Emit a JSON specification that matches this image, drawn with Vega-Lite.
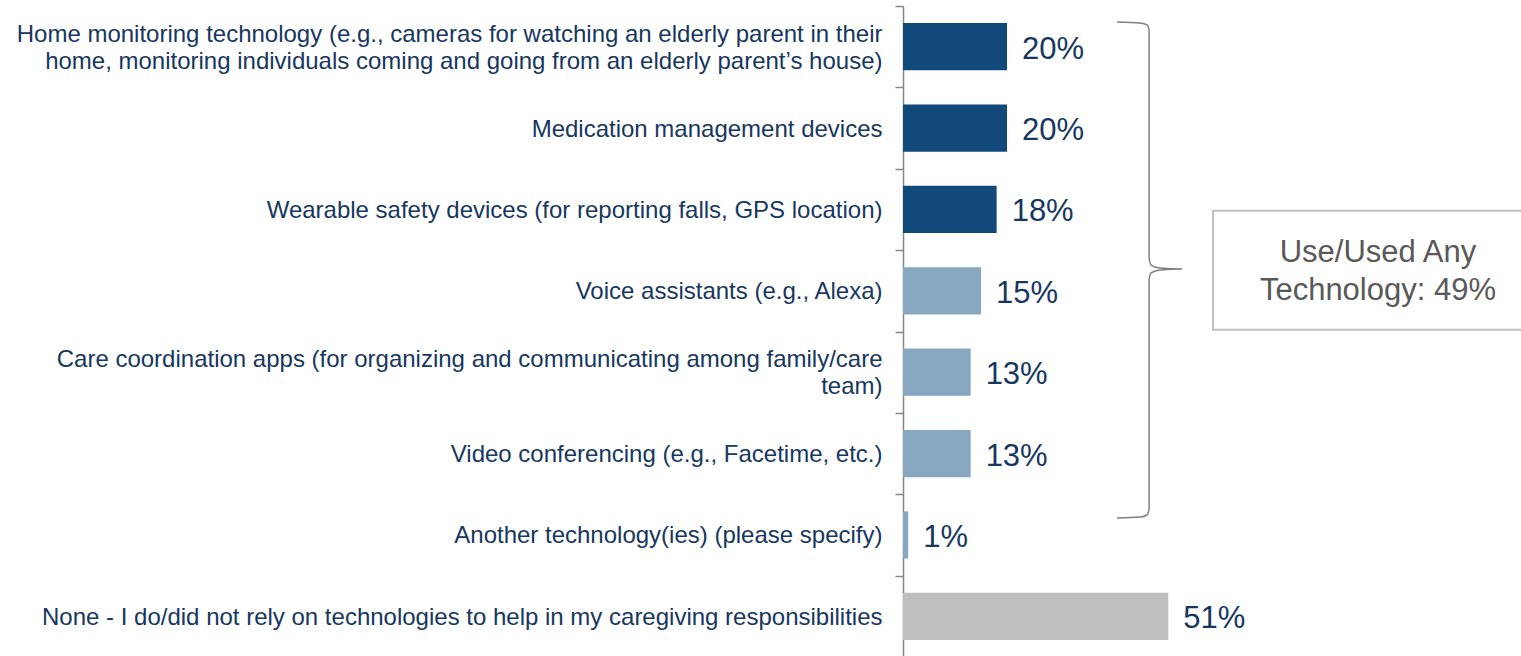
{
  "$schema": "https://vega.github.io/schema/vega-lite/v6.json",
  "width": 618,
  "height": 651,
  "autosize": "none",
  "padding": {"left": 903, "top": 6, "right": 0, "bottom": 0},
  "background": "white",
  "config": {"view": {"stroke": null}, "font": "Liberation Sans"},
  "resolve": {"scale": {"y": "independent"}},
  "layer": [
    {
      "data": {
        "values": [
          {"cat": "Home monitoring technology (e.g., cameras for watching an elderly parent in their|home, monitoring individuals coming and going from an elderly parent’s house)", "value": 20, "label": "20%", "grp": "dark"},
          {"cat": "Medication management devices", "value": 20, "label": "20%", "grp": "dark"},
          {"cat": "Wearable safety devices (for reporting falls, GPS location)", "value": 18, "label": "18%", "grp": "dark"},
          {"cat": "Voice assistants (e.g., Alexa)", "value": 15, "label": "15%", "grp": "light"},
          {"cat": "Care coordination apps (for organizing and communicating among family/care|team)", "value": 13, "label": "13%", "grp": "light"},
          {"cat": "Video conferencing (e.g., Facetime, etc.)", "value": 13, "label": "13%", "grp": "light"},
          {"cat": "Another technology(ies) (please specify)", "value": 1, "label": "1%", "grp": "light"},
          {"cat": "None - I do/did not rely on technologies to help in my caregiving responsibilities", "value": 51, "label": "51%", "grp": "grey"}
        ]
      },
      "encoding": {
        "y": {
          "field": "cat",
          "type": "nominal",
          "sort": null,
          "title": null,
          "scale": {"paddingInner": 0, "paddingOuter": 0},
          "axis": {
            "labelExpr": "indexof(datum.label, '|') >= 0 ? [split(datum.label, '|')[0], '\u200b', split(datum.label, '|')[1]] : ['\u200b', datum.label]",
            "labelFont": "Liberation Sans",
            "labelFontSize": 24,
            "labelColor": "#17375E",
            "labelLineHeight": 13.5,
            "labelLimit": 0,
            "labelPadding": 13,
            "labelOffset": -12.5,
            "tickBand": "extent",
            "tickSize": 8,
            "tickColor": "#868686",
            "tickWidth": 1.5,
            "domainColor": "#868686",
            "domainWidth": 1.5
          }
        },
        "x": {
          "field": "value",
          "type": "quantitative",
          "scale": {"domain": [0, 118.8], "nice": false, "zero": true},
          "axis": null
        }
      },
      "layer": [
        {
          "mark": {"type": "bar", "height": {"band": 0.58}},
          "encoding": {
            "color": {
              "field": "grp",
              "type": "nominal",
              "scale": {"domain": ["dark", "light", "grey"], "range": ["#10497A", "#87A7C1", "#BFBFBF"]},
              "legend": null
            }
          }
        },
        {
          "mark": {"type": "text", "align": "left", "baseline": "middle", "dx": 15, "dy": 3, "fontSize": 31, "color": "#17375E", "font": "Liberation Sans"},
          "encoding": {"text": {"field": "label"}}
        }
      ]
    },
    {
      "data": {
        "values": [
          {"bx": 41.15, "by": 0.197, "o": 1},
          {"bx": 45.58, "by": 0.209, "o": 2},
          {"bx": 46.92, "by": 0.233, "o": 3},
          {"bx": 47.31, "by": 0.295, "o": 4},
          {"bx": 47.31, "by": 3.097, "o": 5},
          {"bx": 47.69, "by": 3.183, "o": 6},
          {"bx": 49.42, "by": 3.22, "o": 7},
          {"bx": 53.65, "by": 3.232, "o": 8},
          {"bx": 49.42, "by": 3.244, "o": 9},
          {"bx": 47.69, "by": 3.281, "o": 10},
          {"bx": 47.31, "by": 3.367, "o": 11},
          {"bx": 47.31, "by": 6.181, "o": 12},
          {"bx": 46.92, "by": 6.255, "o": 13},
          {"bx": 45.58, "by": 6.28, "o": 14},
          {"bx": 41.15, "by": 6.292, "o": 15}
        ]
      },
      "mark": {"type": "line", "color": "#7F7F7F", "strokeWidth": 1.5, "interpolate": "monotone"},
      "encoding": {
        "x": {"field": "bx", "type": "quantitative", "scale": {"domain": [0, 118.8], "nice": false, "zero": true}, "axis": null},
        "y": {"field": "by", "type": "quantitative", "scale": {"domain": [0, 8], "reverse": true, "nice": false, "zero": false}, "axis": null},
        "order": {"field": "o"}
      }
    },
    {
      "data": {"values": [{"x1": 59.6, "x2": 125, "y1": 2.516, "y2": 3.98, "tx": 91.3, "ty": 3.03, "txt": "Use/Used Any|Technology: 49%"}]},
      "layer": [
        {
          "mark": {"type": "rect", "fill": null, "stroke": "#BFBFBF", "strokeWidth": 2, "clip": false},
          "encoding": {
            "x": {"field": "x1", "type": "quantitative", "scale": {"domain": [0, 118.8], "nice": false, "zero": true}, "axis": null},
            "x2": {"field": "x2"},
            "y": {"field": "y1", "type": "quantitative", "scale": {"domain": [0, 8], "reverse": true, "nice": false, "zero": false}, "axis": null},
            "y2": {"field": "y2"}
          }
        },
        {
          "mark": {"type": "text", "align": "center", "baseline": "middle", "fontSize": 31, "lineHeight": 38, "color": "#595959", "font": "Liberation Sans", "lineBreak": "|"},
          "encoding": {
            "x": {"field": "tx", "type": "quantitative", "scale": {"domain": [0, 118.8], "nice": false, "zero": true}, "axis": null},
            "y": {"field": "ty", "type": "quantitative", "scale": {"domain": [0, 8], "reverse": true, "nice": false, "zero": false}, "axis": null},
            "text": {"field": "txt"}
          }
        }
      ]
    }
  ]
}
